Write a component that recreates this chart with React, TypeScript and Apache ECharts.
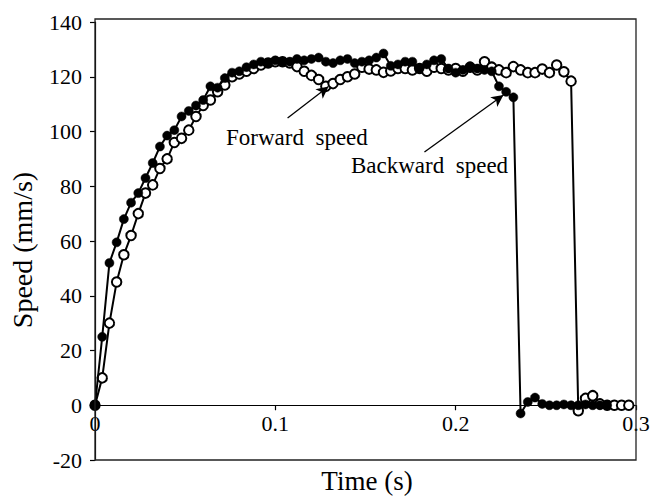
import React, { useEffect, useRef } from "react";
import * as echarts from "echarts";

const timeS = [
  0, 0.004, 0.008, 0.012, 0.016, 0.02, 0.024, 0.028, 0.032, 0.036, 0.04, 0.044, 0.048, 0.052, 0.056,
  0.06, 0.064, 0.068, 0.072, 0.076, 0.08, 0.084, 0.088, 0.092, 0.096, 0.1, 0.104, 0.108, 0.112, 0.116,
  0.12, 0.124, 0.128, 0.132, 0.136, 0.14, 0.144, 0.148, 0.152, 0.156, 0.16, 0.164, 0.168, 0.172, 0.176,
  0.18, 0.184, 0.188, 0.192, 0.196, 0.2, 0.204, 0.208, 0.212, 0.216, 0.22, 0.224, 0.228, 0.232, 0.236,
  0.24, 0.244, 0.248, 0.252, 0.256, 0.26, 0.264, 0.268, 0.272, 0.276, 0.28, 0.284, 0.288, 0.292, 0.296,
];

// Backward speed (filled markers)
const backwardSpeed = [
  0, 25, 52, 59.5, 68, 74, 77.5, 83, 88.5, 94.5, 98.5, 100.5, 105.5, 107.5, 109.5,
  111.5, 116.5, 116, 119.5, 121.5, 122, 123.5, 124.5, 125.5, 125, 126, 125.5, 125.5, 126.5, 126,
  126.5, 127, 125.5, 125, 126, 126.5, 125, 125.5, 126, 127, 128.5, 124, 124.5, 125.5, 125.5,
  123, 124.5, 126, 126.5, 123, 121.5, 122.5, 123.5, 123, 122.5, 122, 116.5, 114.5, 112.5, -3,
  1.2, 2.8, 0.5, 0, 0, 0.3, 0, 0, 0.3, 0, 0, 0,
];

// Forward speed (open markers)
const forwardSpeed = [
  0, 10, 30, 45, 55, 62, 70, 77.5, 80.5, 86.5, 90, 96, 97.5, 100.5, 105.5,
  109.5, 111.5, 114.5, 117, 120, 121, 122, 123, 124.3, 125, 125.5, 125.5, 125, 123.7, 122,
  120.5, 119, 116.5, 117.5, 119, 120, 121, 123.5, 122.8, 122.5, 121.6, 122.1, 123, 123, 122.5,
  123, 122, 123.5, 123, 122.5, 123, 122, 123.5, 122.5, 125.5, 123.5, 122.5, 121.5, 123.7, 122.5,
  121.5, 121.5, 122.8, 121.5, 124.3, 121.8, 118.4, -2, 2.5, 3.5, 0.5, 0, 0, 0, 0,
];

const yTicks = [-20, 0, 20, 40, 60, 80, 100, 120, 140];
const xTicks = [0, 0.1, 0.2, 0.3];

// Annotation arrows in data coordinates [start, end]
const forwardArrow = [[0.1068, 104.9], [0.1295, 116.4]];
const backwardArrow = [[0.1827, 92.5], [0.2265, 113.3]];

const FONT = "'Liberation Serif', 'Times New Roman', serif";

const GRID_TOP = 22;
const GRID_BOTTOM = 37;
const CHART_H = 497;

export default function App() {
  const ref = useRef<HTMLDivElement>(null);

  useEffect(() => {
    if (!ref.current) return;
    const chart = echarts.init(ref.current, undefined, { renderer: "svg" });
    const fwd = timeS.slice(0, forwardSpeed.length).map((t, i) => [t, forwardSpeed[i]]);
    const bwd = timeS.slice(0, backwardSpeed.length).map((t, i) => [t, backwardSpeed[i]]);

    const yMin = yTicks[0];
    const yMax = yTicks[yTicks.length - 1];
    const gridH = CHART_H - GRID_TOP - GRID_BOTTOM;
    // move the x axis up from the grid bottom to the y = 0 line
    const zeroOffset = -((0 - yMin) / (yMax - yMin)) * gridH;

    chart.setOption({
      animation: false,
      backgroundColor: "#fff",
      grid: { left: 95, right: 24, top: GRID_TOP, bottom: GRID_BOTTOM, containLabel: false },
      xAxis: {
        type: "value",
        position: "bottom",
        offset: zeroOffset,
        min: xTicks[0],
        max: xTicks[xTicks.length - 1],
        interval: 0.1,
        axisLine: { show: true, onZero: false, lineStyle: { color: "#000", width: 1.2 } },
        axisTick: { show: true, inside: false, length: 5, lineStyle: { color: "#000", width: 1.2 } },
        axisLabel: {
          show: true,
          margin: 7,
          fontSize: 22,
          fontFamily: FONT,
          color: "#000",
          showMinLabel: true,
          showMaxLabel: true,
          formatter: (v: number) => String(Math.round(v * 10) / 10),
        },
        splitLine: { show: false },
      },
      yAxis: {
        type: "value",
        min: yMin,
        max: yMax,
        interval: 20,
        axisLine: { show: true, onZero: false, lineStyle: { color: "#000", width: 1.2 } },
        axisTick: { show: true, inside: false, length: 5, lineStyle: { color: "#000", width: 1.2 } },
        axisLabel: {
          show: true,
          margin: 13,
          fontSize: 22,
          fontFamily: FONT,
          color: "#000",
        },
        splitLine: { show: false },
      },
      graphic: [
        {
          type: "rect",
          z: 100,
          silent: true,
          shape: { x: 95, y: 19, width: 541, height: 441 },
          style: { fill: "none", stroke: "#222", lineWidth: 1.3 },
        },
        {
          type: "text",
          x: 22,
          y: 250,
          rotation: Math.PI / 2,
          style: {
            text: "Speed (mm/s)",
            font: `28px ${FONT}`,
            fill: "#000",
            align: "center",
            verticalAlign: "middle",
          },
        },
        {
          type: "text",
          x: 367,
          y: 481,
          style: {
            text: "Time (s)",
            font: `27px ${FONT}`,
            fill: "#000",
            align: "center",
            verticalAlign: "middle",
          },
        },
        {
          type: "text",
          x: 226,
          y: 137,
          style: {
            text: "Forward  speed",
            font: `23px ${FONT}`,
            fill: "#000",
            align: "left",
            verticalAlign: "middle",
          },
        },
        {
          type: "text",
          x: 351,
          y: 165,
          style: {
            text: "Backward  speed",
            font: `23px ${FONT}`,
            fill: "#000",
            align: "left",
            verticalAlign: "middle",
          },
        },
      ],
      series: [
        {
          name: "Forward speed",
          type: "line",
          data: fwd,
          symbol: "circle",
          symbolSize: 9.5,
          showAllSymbol: true,
          lineStyle: { color: "#000", width: 2 },
          itemStyle: { color: "#fff", borderColor: "#000", borderWidth: 2 },
          z: 2,
          markLine: {
            silent: true,
            symbol: ["none", "arrow"],
            symbolSize: [9, 12],
            label: { show: false },
            lineStyle: { color: "#000", width: 1.3, type: "solid" },
            data: [
              [{ coord: forwardArrow[0] }, { coord: forwardArrow[1] }],
              [{ coord: backwardArrow[0] }, { coord: backwardArrow[1] }],
            ],
          },
        },
        {
          name: "Backward speed",
          type: "line",
          data: bwd,
          symbol: "circle",
          symbolSize: 9,
          showAllSymbol: true,
          lineStyle: { color: "#000", width: 2 },
          itemStyle: { color: "#000", borderColor: "#000", borderWidth: 0.5 },
          z: 3,
        },
      ],
    });

    return () => chart.dispose();
  }, []);

  return (
    <div
      ref={ref}
      style={{ position: "fixed", left: 0, top: 0, width: 660, height: 497, background: "#fff" }}
    />
  );
}
